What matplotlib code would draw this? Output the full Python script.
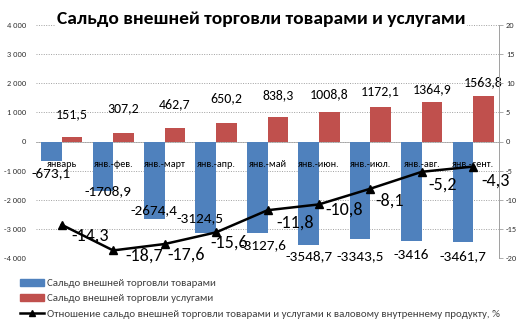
import matplotlib
matplotlib.use("Agg")
import matplotlib.pyplot as plt
from matplotlib.patches import Patch
from matplotlib.lines import Line2D
import numpy as np

categories = ["январь", "янв.-фев.", "янв.-март", "янв.-апр.", "янв.-май",
              "янв.-июн.", "янв.-июл.", "янв.-авг.", "янв.-сент."]
goods = [-673.1, -1708.9, -2674.4, -3124.5, -3127.6, -3548.7, -3343.5, -3416, -3461.7]
services = [151.5, 307.2, 462.7, 650.2, 838.3, 1008.8, 1172.1, 1364.9, 1563.8]
ratio = [-14.3, -18.7, -17.6, -15.6, -11.8, -10.8, -8.1, -5.2, -4.3]
left_ticks = [4000, 3000, 2000, 1000, 0, -1000, -2000, -3000, -4000]
left_tick_labels = ["4 000", "3 000", "2 000", "1 000", "0", "-1 000", "-2 000", "-3 000", "-4 000"]
right_ticks = [20, 15, 10, 5, 0, -5, -10, -15, -20]

def fmt(v):
    s = ("%.1f" % v).replace(".", ",")
    if s.endswith(",0"):
        s = s[:-2]
    return s

# label placement offsets (pixels) to mimic original layout
goods_down = [12, 0, -9, -14, 13, 11, 17, 14, 14]
goods_dx = [0, 5, 0, -6, 6, 0, 0, 0, 0]
serv_dy = [23, 24, 24, 24, 22, 18, 16, 13, 14]
ratio_dx = [28, 31, 22, 13, 28, 25, 19, 21, 22]
ratio_dy = [-11, -5, -11, -10, -12, -5, -12, -13, -14]

FONT = "Carlito"
fig = plt.figure(figsize=(5.27, 3.26), dpi=100)
ax = fig.add_axes([36/527, 1-258/326, (499-36)/527, (258-25)/326])
x = np.arange(len(categories))
w = 0.4
ax.bar(x - w/2, goods, w, color="#4F81BD", zorder=2)
ax.bar(x + w/2, services, w, color="#C0504D", zorder=2)
ax.set_xlim(-0.5, len(categories) - 0.5)
ax.set_ylim(-4000, 4000)
ax.set_yticks(left_ticks)
ax.set_yticklabels(left_tick_labels, fontsize=6, family=FONT, color="#333333")
ax.set_xticks([])
ax.tick_params(axis="y", length=0, pad=7)
ax.grid(axis="y", linestyle=(0, (1, 1.5)), color="#a0a0a0", linewidth=0.7, zorder=0)
for s in ["top", "bottom", "left", "right"]:
    ax.spines[s].set_visible(False)
ax.axhline(0, color="#b0b0b0", linewidth=0.6, zorder=1)

for i, c in enumerate(categories):
    ax.annotate(c, (x[i], 0), xytext=(0, -23), textcoords="offset pixels",
                ha="center", va="center", fontsize=7.3, family=FONT, color="#000000", zorder=5)
for i, v in enumerate(goods):
    ax.annotate(fmt(v), (x[i] - w/2, v), xytext=(goods_dx[i], -goods_down[i]), textcoords="offset pixels",
                ha="center", va="center", fontsize=11, family=FONT, color="#000000", zorder=5)
for i, v in enumerate(services):
    ax.annotate(fmt(v), (x[i] + w/2, v), xytext=(0, serv_dy[i]), textcoords="offset pixels",
                ha="center", va="center", fontsize=10, family=FONT, color="#000000", zorder=5)

ax2 = ax.twinx()
ax2.set_ylim(-20, 20)
ax2.set_yticks(right_ticks)
ax2.set_yticklabels([str(t) for t in right_ticks], fontsize=6, family=FONT, color="#333333")
ax2.tick_params(axis="y", length=3, width=0.6, color="#a0a0a0", pad=2)
for s in ["top", "bottom", "left"]:
    ax2.spines[s].set_visible(False)
ax2.spines["right"].set_color("#a0a0a0")
ax2.spines["right"].set_linewidth(0.7)
ax2.plot(x, ratio, color="black", linewidth=1.8, marker="^", markersize=6, zorder=4)
for i, v in enumerate(ratio):
    ax2.annotate(fmt(v), (x[i], v), xytext=(ratio_dx[i], ratio_dy[i]), textcoords="offset pixels",
                 ha="center", va="center", fontsize=13, family=FONT, color="#000000", zorder=5)

fig.text(261/527, 1-19/326, "Сальдо внешней торговли товарами и услугами", ha="center", va="center",
         fontsize=14, fontweight="bold", family=FONT,
         bbox=dict(facecolor="white", edgecolor="none", pad=1))

handles = [Patch(color="#4F81BD"), Patch(color="#C0504D"),
           Line2D([0], [0], color="black", linewidth=1.8, marker="^", markersize=5)]
labels = ["Сальдо внешней торговли товарами", "Сальдо внешней торговли услугами",
          "Отношение сальдо внешней торговли товарами и услугами к валовому внутреннему продукту, %"]
fig.legend(handles, labels, loc="upper left", bbox_to_anchor=(20/527, 1-279/326), frameon=False,
           prop={"family": FONT, "size": 7.8}, labelcolor="#404040", handlelength=2.2,
           handleheight=0.6, handletextpad=0.3, labelspacing=0.55, borderpad=0, borderaxespad=0)

fig.savefig("out.png", dpi=100)
